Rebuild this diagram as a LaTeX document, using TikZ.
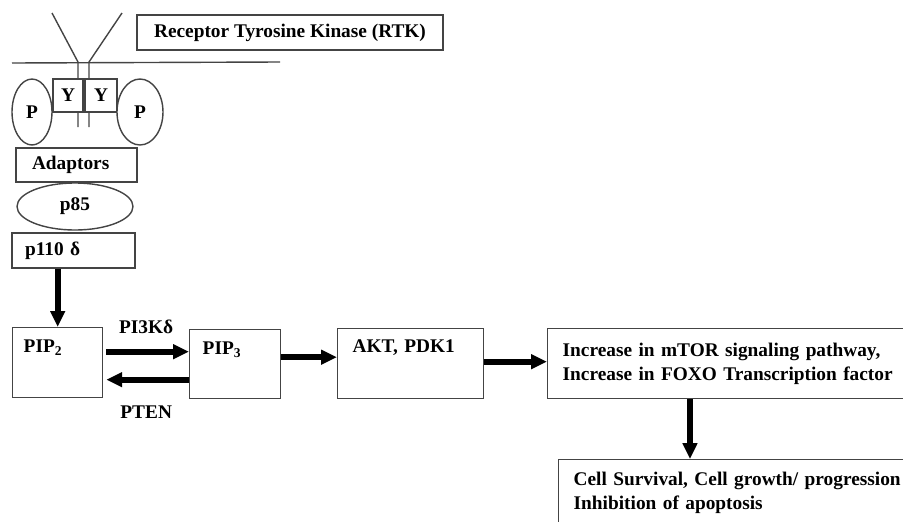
\documentclass[tikz,border=0pt]{standalone}
\usepackage{fontspec}
\setmainfont{Liberation Serif}
\usepackage{tikz}
\usetikzlibrary{arrows.meta,calc,shapes.geometric}
\usepackage{xcolor}
\definecolor{edge}{HTML}{444444}

\begin{document}
\begin{tikzpicture}[x=0.02cm, y=-0.02cm,
  every node/.style={font=\bfseries\fontsize{11}{13.6}\selectfont},
  box/.style={draw=edge, line width=0.8pt, fill=white, rectangle, align=left, inner ysep=0pt},
  blob/.style={draw=edge, line width=0.8pt, fill=white, ellipse, inner sep=0pt},
  fatarrow/.style={line width=3.2pt, -{Triangle[length=9pt,width=8pt]}}]
  \useasboundingbox (0,0) rectangle (903,521);
  \clip (0,0) rectangle (903,521);
  % receptor and membrane
  \draw[edge, line width=0.8pt] (52,13) -- (78,62) -- (78,127);
  \draw[edge, line width=0.8pt] (122,13) -- (89,62) -- (89,127);
  \draw[edge, line width=0.8pt] (12,63) -- (280,62);
  \node[box, align=center, minimum width=6.12cm, minimum height=0.7cm] (rtk) at (290,32.5) {Receptor Tyrosine Kinase (RTK)};
  \node[box, align=center, inner sep=0pt, minimum width=0.6cm, minimum height=0.66cm] (yl) at (68,95.5) {Y};
  \node[box, align=center, inner sep=0pt, minimum width=0.64cm, minimum height=0.66cm] (yr) at (101,95.5) {Y};
  \node[blob, minimum width=0.8cm, minimum height=1.32cm] (pl) at (32,112) {P};
  \node[blob, minimum width=0.92cm, minimum height=1.32cm] (pr) at (140,112) {P};
  % adaptor chain
  \node[box, inner xsep=0.32cm, text width=1.78cm, minimum height=0.68cm] (adaptors) at (76.5,165) {Adaptors};
  \node[blob, minimum width=2.32cm, minimum height=0.94cm] (p85) at (75,206.5) {p85};
  \node[box, inner xsep=0.26cm, text width=1.94cm, minimum height=0.7cm] (p110) at (73.5,250.5) {p110 δ};
  % lipid boxes
  \node[box, anchor=north west, inner xsep=0.22cm, text width=1.36cm, text height=0.5cm, text depth=0.9cm] (pip2) at (12,327) {PIP\textsubscript{2}};
  \node[box, anchor=north west, inner xsep=0.26cm, text width=1.3cm, text height=0.5cm, text depth=0.88cm] (pip3) at (189,329) {PIP\textsubscript{3}};
  \node[box, anchor=north west, inner xsep=0.3cm, text width=2.32cm, text height=0.48cm, text depth=0.92cm] (akt) at (337,328) {AKT, PDK1};
  \node[box, anchor=north west, inner xsep=0.3cm, text width=6.8cm, minimum height=1.4cm] (mtor) at (547,328) {Increase in mTOR signaling pathway,\\Increase in FOXO Transcription factor};
  \node[box, anchor=north west, inner xsep=0.3cm, inner ysep=0.24cm, text width=6.8cm, text depth=1cm] (cell) at (558,459) {Cell Survival, Cell growth/ progression\\Inhibition of apoptosis};
  % arrows
  \draw[fatarrow] (p110.south -| pip2.north) -- (pip2.north);
  \draw[fatarrow, shorten <=0.06cm] ([yshift=0.22cm]pip2.east) -- ([yshift=0.22cm]pip2.east -| pip3.west)
    node[midway, above=0.3cm, inner sep=0pt] {PI3Kδ};
  \draw[fatarrow, shorten >=0.06cm] ([yshift=-0.34cm]pip2.east -| pip3.west) -- ([yshift=-0.34cm]pip2.east)
    node[midway, below=0.46cm, inner sep=0pt] {PTEN};
  \draw[fatarrow] ([yshift=0.14cm]pip3.east) -- ([yshift=0.14cm]pip3.east -| akt.west);
  \draw[fatarrow] ([yshift=0.04cm]akt.east) -- ([yshift=0.04cm]akt.east -| mtor.west);
  \draw[fatarrow] ([xshift=2.86cm]mtor.south west) -- ([xshift=2.86cm]mtor.south west |- cell.north);
\end{tikzpicture}
\end{document}
